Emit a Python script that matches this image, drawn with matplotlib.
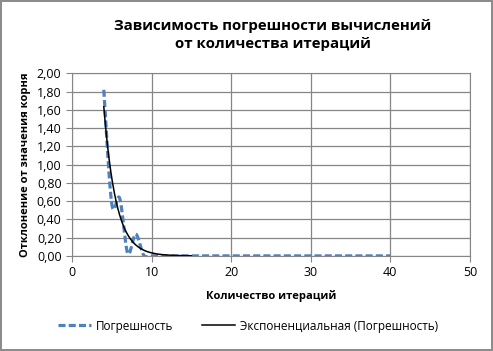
import numpy as np
import matplotlib
matplotlib.use('Agg')
import matplotlib.pyplot as plt

plt.rcParams['font.family'] = ['Open Sans', 'DejaVu Sans']

# Погрешность по итерациям
iterations = [4, 5, 6, 7, 8, 9, 10, 12, 15, 20, 25, 30, 35, 40]
errors = [1.82, 0.57, 0.63, 0.03, 0.24, 0.01, 0.0, 0.0, 0.0, 0.0, 0.0, 0.0, 0.0, 0.0]

# экспоненциальная линия тренда y = a*exp(b*x)
trend_a = 22.0
trend_b = -0.65
trend_from, trend_to = 4, 15

title = "Зависимость погрешности вычислений\nот количества итераций"
xlabel = "Количество итераций"
ylabel = "Отклонение от значения корня"
series_name = "Погрешность"
trend_name = "Экспоненциальная (Погрешность)"


def smooth(x, y, n=30):
    # сглаживание как в Excel (Catmull-Rom)
    x = np.asarray(x, float)
    y = np.asarray(y, float)
    px = np.concatenate([[x[0]], x, [x[-1]]])
    py = np.concatenate([[y[0]], y, [y[-1]]])
    xs, ys = [], []
    for i in range(1, len(px) - 2):
        t = np.linspace(0, 1, n)
        for arr, out in ((px, xs), (py, ys)):
            p0, p1, p2, p3 = arr[i - 1], arr[i], arr[i + 1], arr[i + 2]
            m1 = (p2 - p0) / 2
            m2 = (p3 - p1) / 2
            h00 = 2 * t**3 - 3 * t**2 + 1
            h10 = t**3 - 2 * t**2 + t
            h01 = -2 * t**3 + 3 * t**2
            h11 = t**3 - t**2
            out.extend(h00 * p1 + h10 * m1 + h01 * p2 + h11 * m2)
    return np.array(xs), np.array(ys)


fig = plt.figure(figsize=(4.93, 3.51), dpi=100)
fig.patch.set_edgecolor('#8c8c8c')
fig.patch.set_linewidth(1.5)
ax = fig.add_axes([0.146, 0.271, 0.807, 0.520])

sx, sy = smooth(iterations, errors)
ax.plot(sx, sy, color='#4f81bd', lw=2.3, ls=(0, (2.2, 1.0)), label=series_name)

tx = np.linspace(trend_from, trend_to, 200)
ax.plot(tx, trend_a * np.exp(trend_b * tx), color='black', lw=1.1, label=trend_name)

ax.set_xlim(0, 50)
ax.set_ylim(0, 2)
ax.set_xticks(np.arange(0, 51, 10))
ax.set_yticks(np.arange(0, 2.01, 0.2))
ax.set_yticklabels([f"{v:.2f}".replace('.', ',') for v in np.arange(0, 2.01, 0.2)])
ax.grid(True, color='#868686', lw=0.9)
ax.set_axisbelow(True)
for s in ax.spines.values():
    s.set_color('#868686')
ax.tick_params(axis='both', colors='#868686', labelcolor='black', labelsize=9, length=4, direction='out')

ax.set_xlabel(xlabel, fontsize=8, fontweight='bold', labelpad=8)
ax.set_ylabel(ylabel, fontsize=8, fontweight='bold', labelpad=4)
fig.text(0.553, 0.90, title, ha='center', va='center', fontsize=10.8, fontweight='bold', linespacing=1.4)

fig.legend(loc='center', bbox_to_anchor=(0.503, 0.071), ncol=2, frameon=False, fontsize=8.5,
           handlelength=2.8, columnspacing=2.5, handletextpad=0.4)

fig.savefig('out.png', dpi=100, edgecolor=fig.get_edgecolor())
